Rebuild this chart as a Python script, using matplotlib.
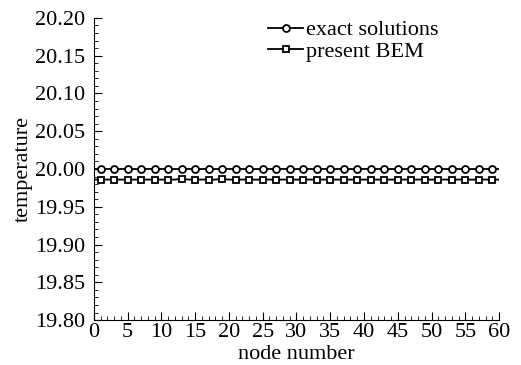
import numpy as np
import matplotlib.pyplot as plt
from matplotlib.ticker import MultipleLocator

plt.rcParams['font.family'] = ['Liberation Serif', 'DejaVu Serif']

nodes = np.arange(0, 61)
exact = np.full(61, 20.00)
bem = np.array([19.986, 19.986, 19.986, 19.986, 19.986, 19.986, 19.986, 19.986, 19.986, 19.986,
                19.986, 19.986, 19.986, 19.987, 19.986, 19.986, 19.986, 19.986, 19.986, 19.987,
                19.986, 19.986, 19.986, 19.986, 19.986, 19.986, 19.986, 19.986, 19.986, 19.986,
                19.986, 19.986, 19.986, 19.986, 19.986, 19.986, 19.986, 19.986, 19.986, 19.986,
                19.986, 19.986, 19.986, 19.986, 19.986, 19.986, 19.986, 19.986, 19.986, 19.986,
                19.986, 19.986, 19.986, 19.986, 19.986, 19.986, 19.986, 19.986, 19.986, 19.986,
                19.986])

fig = plt.figure(figsize=(5.21, 3.65), dpi=100)
ax = fig.add_axes([0.18, 0.123, 0.778, 0.828])

ax.plot(nodes, exact, color='black', lw=1.3, marker='o', markersize=5,
        markerfacecolor='white', markeredgewidth=1.3, markevery=slice(1, None, 2),
        label='exact solutions')
ax.plot(nodes, bem, color='black', lw=1.3, marker='s', markersize=5,
        markerfacecolor='white', markeredgewidth=1.3, markevery=slice(1, None, 2),
        label='present BEM')

ax.set_xlim(0, 60)
ax.set_ylim(19.80, 20.20)
ax.xaxis.set_major_locator(MultipleLocator(5))
ax.xaxis.set_minor_locator(MultipleLocator(1))
ax.yaxis.set_major_locator(MultipleLocator(0.05))
ax.yaxis.set_minor_locator(MultipleLocator(0.01))
ax.yaxis.set_major_formatter(plt.FormatStrFormatter('%.2f'))
ax.tick_params(which='both', direction='in', labelsize=16)
ax.tick_params(axis='x', pad=2)
ax.tick_params(axis='y', pad=6)
ax.tick_params(which='major', length=6)
ax.tick_params(which='minor', length=3)
ax.spines['top'].set_visible(False)
ax.spines['right'].set_visible(False)

ax.set_xlabel('node number', fontsize=16, labelpad=2)
ax.set_ylabel('temperature', fontsize=16, labelpad=2)

ax.legend(loc='upper left', bbox_to_anchor=(0.38, 1.06), frameon=False,
          fontsize=16, handlelength=1.6, handletextpad=0.1, labelspacing=0.05)

fig.savefig('out.png', dpi=100)
